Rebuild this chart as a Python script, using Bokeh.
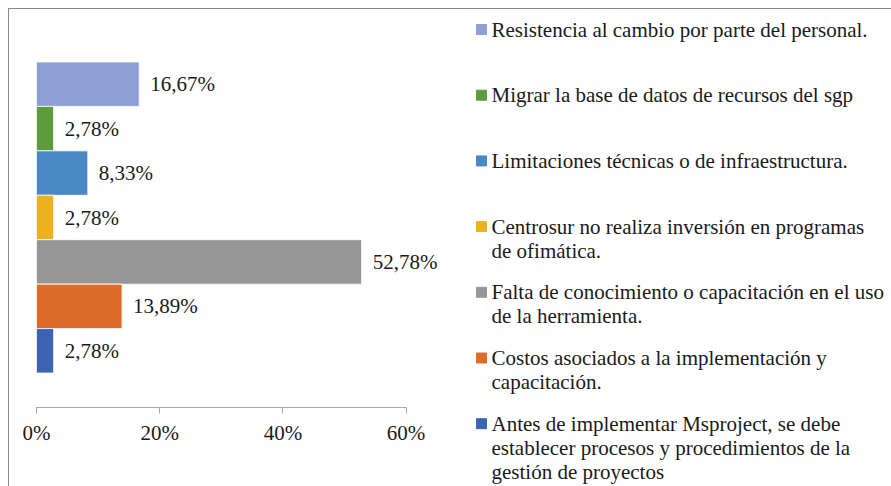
from bokeh.plotting import figure
from bokeh.layouts import row
from bokeh.models import Range1d, FixedTicker, ColumnDataSource
from bokeh.core.properties import value
from bokeh.embed import file_html
from bokeh.resources import INLINE

# ---- data ----
categories = [
    "Resistencia al cambio por parte del personal.",
    "Migrar la base de datos de recursos del sgp",
    "Limitaciones técnicas o de infraestructura.",
    "Centrosur no realiza inversión en programas\nde ofimática.",
    "Falta de conocimiento o capacitación en el uso\nde la herramienta.",
    "Costos asociados a la implementación y\ncapacitación.",
    "Antes de implementar Msproject, se debe\nestablecer procesos y procedimientos de la\ngestión de proyectos",
]
values = [16.67, 2.78, 8.33, 2.78, 52.78, 13.89, 2.78]
value_labels = ["16,67%", "2,78%", "8,33%", "2,78%", "52,78%", "13,89%", "2,78%"]
colors = ["#8E9FD5", "#5E9B3C", "#4A88C6", "#EDB020", "#969696", "#DC6C28", "#3B62B3"]
tick_values = [0, 20, 40, 60]
tick_labels = ["0%", "20%", "40%", "60%"]

FONT = "Liberation Serif"
FS = "21px"
TXT = "#1a1a1a"

n = len(values)
ypos = [n - 1 - i for i in range(n)]

src = ColumnDataSource(dict(y=ypos, v=values, lab=value_labels, c=colors))

# ---- chart ----
W_A, H = 451, 477
pA = figure(width=W_A, height=H, output_backend="svg", toolbar_location=None, title=None,
            x_range=Range1d(0, 68.83), y_range=Range1d(-1.276, n - 0.5 + 0.776),
            x_axis_location="below", y_axis_location=None, frame_align=False,
            min_border_left=27, min_border_right=0, min_border_top=18, min_border_bottom=79)
pA.outline_line_color = None
pA.grid.visible = False
pA.background_fill_color = "white"
pA.border_fill_color = "white"

pA.hbar(y="y", left=0, right="v", height=1, fill_color="c", line_color="white",
        line_width=0.8, source=src)
pA.text(x="v", y="y", text="lab", x_offset=11, text_align="left", text_baseline="middle",
        text_font=value(FONT), text_font_size=FS, text_color=TXT, source=src)

ax = pA.xaxis[0]
ax.ticker = FixedTicker(ticks=tick_values)
ax.major_label_overrides = {t: l for t, l in zip(tick_values, tick_labels)}
ax.bounds = (tick_values[0], tick_values[-1])
ax.axis_line_color = "#A6A6A6"
ax.major_tick_line_color = "#A6A6A6"
ax.major_tick_in = 0
ax.major_tick_out = 6
ax.minor_tick_line_color = None
ax.major_label_text_font = FONT
ax.major_label_text_font_size = FS
ax.major_label_text_color = TXT
ax.major_label_standoff = 7

# ---- legend panel ----
W_B = 431
pB = figure(width=W_B, height=H, output_backend="svg", toolbar_location=None, title=None,
            x_range=Range1d(0, W_B), y_range=Range1d(H, 0), frame_align=False,
            x_axis_location=None, y_axis_location=None, min_border=0)
pB.outline_line_color = None
pB.grid.visible = False
pB.border_fill_color = "white"

leg_top, leg_step = 20, 65.7
leg_y = [leg_top + i * leg_step for i in range(n)]
lsrc = ColumnDataSource(dict(y=leg_y, ty=[y - 12 for y in leg_y], t=categories, c=colors))
pB.scatter(x=21, y="y", marker="square", size=10, fill_color="c", line_color="c", source=lsrc)
pB.text(x=31, y="ty", text="t", text_align="left", text_baseline="top",
        text_font=value(FONT), text_font_size=FS, text_color=TXT, text_line_height=1.0,
        source=lsrc)

layout = row(pA, pB, margin=(8, 0, 0, 8),
             styles={"border-top": "1px solid #888888", "border-left": "1px solid #888888"})

open("out.html", "w").write(file_html(layout, INLINE))
